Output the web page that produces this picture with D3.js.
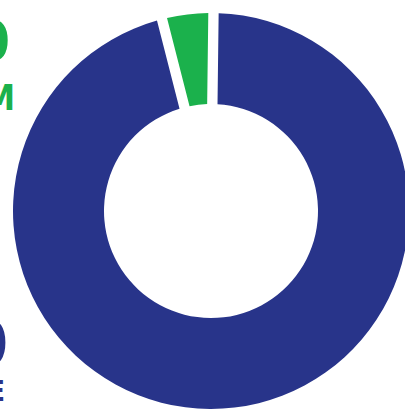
<!DOCTYPE html>
<html><head><meta charset="utf-8">
<script src="https://cdn.jsdelivr.net/npm/d3@7"></script>
<style>html,body{margin:0;padding:0;background:#fff;overflow:hidden}</style>
</head><body>
<svg id="c" width="405" height="411"></svg>
<script>
const categories = ["BASE", "PREMIUM"];
const values = [1930, 70];
const valueLabels = ["1930", "70"];
const colors = ["#28348a", "#1bb14c"];

const svg = d3.select("#c");
const cx = 211, cy = 211, outerR = 198, innerR = 107;
const rot = 0.0125;

const pie = d3.pie().value(d => d.v).sort(null).padAngle(0.046)
  .startAngle(rot).endAngle(2 * Math.PI + rot);
const arc = d3.arc().innerRadius(innerR).outerRadius(outerR);
const data = categories.map((c, i) => ({c, v: values[i], col: colors[i]}));

svg.append("g").attr("transform", `translate(${cx},${cy})`)
  .selectAll("path").data(pie(data)).join("path")
  .attr("d", arc).attr("fill", d => d.data.col);

// Labels sit mostly outside the left edge (cropped as in the reference)
const font = "'Liberation Sans Narrow','DejaVu Sans Condensed','Liberation Sans',sans-serif";
const lab = svg.append("g").attr("font-family", font).attr("font-weight", "bold").attr("text-anchor", "end");
lab.append("text").attr("x", 10).attr("y", 60).attr("font-size", 56).attr("fill", colors[1]).text(valueLabels[1]);
lab.append("text").attr("x", 15).attr("y", 110).attr("font-size", 35).attr("fill", colors[1]).text(categories[1]);
lab.append("text").attr("x", 8).attr("y", 365).attr("font-size", 62).attr("fill", colors[0]).text(valueLabels[0]);
lab.append("text").attr("x", 5).attr("y", 401).attr("font-size", 28).attr("fill", colors[0]).text(categories[0]);
</script>
</body></html>
